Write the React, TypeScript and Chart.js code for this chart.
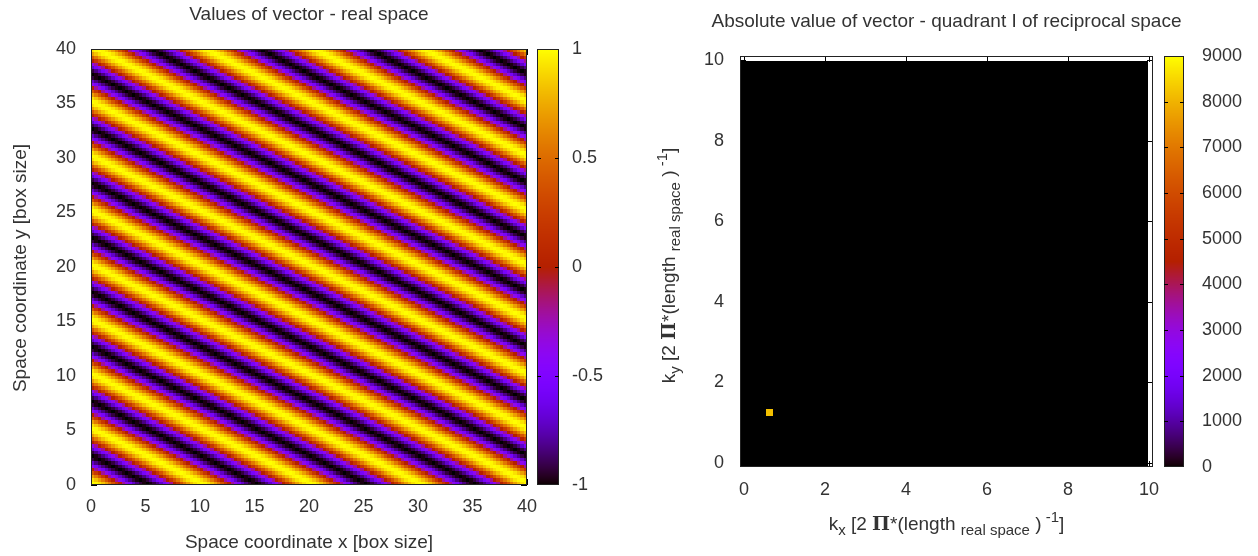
import React, { useEffect, useRef } from "react";
import { Chart, registerables } from "chart.js";

Chart.register(...registerables);

const FONT = "'Liberation Sans', Arial, sans-serif";
const TEXT = "#333333";

// ---------- Real-space panel data ----------
const realGridSize = 128; // cells per side
const realBoxLength = 40; // box size units
const realStripeModes = [4, 8]; // stripe repetitions across the box along x and y
// one period of the stripe profile (value across a stripe)
const stripeProfile = [
  1, 0.98, 0.92, 0.83, 0.71, 0.56, 0.38, 0.2, 0, -0.2, -0.38, -0.56, -0.71, -0.83, -0.92, -0.98,
  -1, -0.98, -0.92, -0.83, -0.71, -0.56, -0.38, -0.2, 0, 0.2, 0.38, 0.56, 0.71, 0.83, 0.92, 0.98,
];
const realTicks = [0, 5, 10, 15, 20, 25, 30, 35, 40];
const realCbTicks = [-1, -0.5, 0, 0.5, 1];

// ---------- Reciprocal-space panel data ----------
const recipGridSize = 64; // cells per side in quadrant I
const recipStep = 0.157; // k spacing, 2*pi/40
const recipPeaks = [{ ix: 4, iy: 8, value: 8192 }];
const recipTicks = [0, 2, 4, 6, 8, 10];
const recipCbTicks = [0, 1000, 2000, 3000, 4000, 5000, 6000, 7000, 8000, 9000];

type Cell = { x: number; y: number; x0: number; x1: number; y0: number; y1: number; v: number };

function buildRealCells(): Cell[] {
  const cells: Cell[] = [];
  const d = realBoxLength / realGridSize;
  const n = stripeProfile.length;
  for (let j = 0; j < realGridSize; j++) {
    for (let i = 0; i < realGridSize; i++) {
      const idx = (((i * realStripeModes[0] + j * realStripeModes[1]) * n) / realGridSize) % n;
      cells.push({
        x: (i + 0.5) * d, y: (j + 0.5) * d,
        x0: i * d, x1: (i + 1) * d, y0: j * d, y1: (j + 1) * d,
        v: stripeProfile[idx],
      });
    }
  }
  return cells;
}

function buildRecipCells(): Cell[] {
  const cells: Cell[] = [];
  for (let j = 0; j < recipGridSize; j++) {
    for (let i = 0; i < recipGridSize; i++) {
      const peak = recipPeaks.find((p) => p.ix === i && p.iy === j);
      cells.push({
        x: i * recipStep, y: j * recipStep,
        x0: (i - 0.5) * recipStep, x1: (i + 0.5) * recipStep,
        y0: (j - 0.5) * recipStep, y1: (j + 0.5) * recipStep,
        v: peak ? peak.value : 0,
      });
    }
  }
  return cells;
}

function paletteColor(t: number): string {
  const c = Math.min(1, Math.max(0, t));
  const r = Math.sqrt(c);
  const g = c * c * c;
  const b = Math.max(0, Math.sin(2 * Math.PI * c));
  return `rgb(${Math.round(r * 255)},${Math.round(g * 255)},${Math.round(b * 255)})`;
}

type Seg = { text: string; size?: number; dy?: number; font?: string };

function drawRich(ctx: CanvasRenderingContext2D, segs: Seg[], cx: number, cy: number, rotate: boolean) {
  ctx.save();
  ctx.translate(cx, cy);
  if (rotate) ctx.rotate(-Math.PI / 2);
  ctx.textBaseline = "alphabetic";
  ctx.textAlign = "left";
  ctx.fillStyle = TEXT;
  const fonts = segs.map((s) => s.font ?? `${s.size ?? 19}px ${FONT}`);
  let total = 0;
  const widths = segs.map((s, i) => {
    ctx.font = fonts[i];
    const w = ctx.measureText(s.text).width;
    total += w;
    return w;
  });
  let x = -total / 2;
  segs.forEach((s, i) => {
    ctx.font = fonts[i];
    ctx.fillText(s.text, x, 7 + (s.dy ?? 0));
    x += widths[i];
  });
  ctx.restore();
}

type Panel = {
  title: string;
  xTitle: Seg[];
  yTitle: Seg[];
  cells: Cell[];
  range: [number, number];
  ticks: number[];
  cbRange: [number, number];
  cbTicks: number[];
  canvasWidth: number;
  topPad: number;
  yAxisWidth: number;
  xAxisHeight: number;
  cbAxisWidth: number;
  yTickPad: number;
  xTickPad: number;
  cbTickPad: number;
  cbGap: number;
  cbWidth: number;
  yTitleShift: number;
};

function makePlugin(p: Panel) {
  return {
    id: "heatmapPanel",
    beforeDatasetsDraw(chart: any) {
      const { ctx, chartArea, scales } = chart;
      const xs = scales.x;
      const ys = scales.y;
      ctx.save();
      // inner tick marks (behind the image)
      ctx.strokeStyle = "#000";
      ctx.lineWidth = 1;
      ctx.beginPath();
      for (const t of xs.ticks) {
        const px = Math.round(xs.getPixelForValue(t.value)) + 0.5;
        ctx.moveTo(px, chartArea.bottom);
        ctx.lineTo(px, chartArea.bottom - 6);
        ctx.moveTo(px, chartArea.top);
        ctx.lineTo(px, chartArea.top + 6);
      }
      for (const t of ys.ticks) {
        const py = Math.round(ys.getPixelForValue(t.value)) + 0.5;
        ctx.moveTo(chartArea.left, py);
        ctx.lineTo(chartArea.left + 6, py);
        ctx.moveTo(chartArea.right, py);
        ctx.lineTo(chartArea.right - 6, py);
      }
      ctx.stroke();
      // cells
      const [vmin, vmax] = p.cbRange;
      const data = chart.data.datasets[0].data as Cell[];
      for (const c of data) {
        const a = Math.round(xs.getPixelForValue(c.x0));
        const b = Math.round(xs.getPixelForValue(c.x1));
        const top = Math.round(ys.getPixelForValue(c.y1));
        const bot = Math.round(ys.getPixelForValue(c.y0));
        ctx.fillStyle = paletteColor((c.v - vmin) / (vmax - vmin));
        ctx.fillRect(a, top, b - a, bot - top);
      }
      ctx.restore();
    },
    afterDraw(chart: any) {
      const { ctx, chartArea, scales } = chart;
      const { left, right, top, bottom } = chartArea;
      ctx.save();
      // frame
      ctx.strokeStyle = "#222";
      ctx.lineWidth = 1;
      ctx.strokeRect(Math.round(left) + 0.5, Math.round(top) + 0.5, Math.round(right - left) - 1, Math.round(bottom - top) - 1);
      // colour box
      const cb = scales.cb;
      const [vmin, vmax] = p.cbRange;
      const x0 = Math.round(right + p.cbGap);
      for (let py = Math.round(top); py < Math.round(bottom); py++) {
        const v = cb.getValueForPixel(py + 0.5);
        ctx.fillStyle = paletteColor((v - vmin) / (vmax - vmin));
        ctx.fillRect(x0, py, p.cbWidth, 1);
      }
      ctx.strokeStyle = "#222";
      ctx.strokeRect(x0 + 0.5, Math.round(top) + 0.5, p.cbWidth - 1, Math.round(bottom - top) - 1);
      ctx.strokeStyle = "#000";
      ctx.beginPath();
      for (const t of cb.ticks) {
        if (t.value === vmin || t.value === vmax) continue;
        const py = Math.round(cb.getPixelForValue(t.value)) + 0.5;
        ctx.moveTo(x0, py);
        ctx.lineTo(x0 + 4, py);
        ctx.moveTo(x0 + p.cbWidth, py);
        ctx.lineTo(x0 + p.cbWidth - 4, py);
      }
      ctx.stroke();
      // titles
      const cx = (left + right) / 2;
      drawRich(ctx, [{ text: p.title, size: 19 }], cx, top - 36, false);
      drawRich(ctx, p.xTitle, cx, bottom + 56, false);
      drawRich(ctx, p.yTitle, left - 72, (top + bottom) / 2 + p.yTitleShift, true);
      ctx.restore();
    },
  };
}

function axis(opts: any) {
  const { position, min, max, ticks, pad, fit } = opts;
  return {
    type: "linear",
    position,
    min,
    max,
    afterBuildTicks: (s: any) => {
      s.ticks = ticks.map((v: number) => ({ value: v }));
    },
    afterFit: (s: any) => {
      fit(s);
      s.paddingTop = 0;
      s.paddingBottom = 0;
      s.paddingLeft = 0;
      s.paddingRight = 0;
    },
    grid: { display: false, drawTicks: false },
    border: { display: false },
    ticks: {
      font: { family: FONT, size: 18 },
      color: TEXT,
      padding: pad,
      maxRotation: 0,
      minRotation: 0,
      autoSkip: false,
      callback: (v: number) => String(v),
    },
  };
}

function HeatPanel({ panel, left }: { panel: Panel; left: number }) {
  const ref = useRef<HTMLCanvasElement | null>(null);
  useEffect(() => {
    if (!ref.current) return;
    const p = panel;
    const chart = new Chart(ref.current, {
      type: "scatter",
      data: {
        datasets: [
          {
            data: p.cells as any,
            pointRadius: 0,
            pointHoverRadius: 0,
            showLine: false,
          },
        ],
      },
      options: {
        responsive: false,
        animation: false,
        events: [],
        layout: { padding: { top: p.topPad, left: 0, right: 0, bottom: 0 } },
        plugins: { legend: { display: false }, tooltip: { enabled: false }, title: { display: false } },
        scales: {
          x: axis({
            position: "bottom", min: p.range[0], max: p.range[1], ticks: p.ticks, pad: p.xTickPad,
            fit: (s: any) => { s.height = p.xAxisHeight; },
          }),
          y: axis({
            position: "left", min: p.range[0], max: p.range[1], ticks: p.ticks, pad: p.yTickPad,
            fit: (s: any) => { s.width = p.yAxisWidth; },
          }),
          cb: axis({
            position: "right", min: p.cbRange[0], max: p.cbRange[1], ticks: p.cbTicks, pad: p.cbTickPad,
            fit: (s: any) => { s.width = p.cbAxisWidth; },
          }),
        } as any,
      },
      plugins: [makePlugin(p)],
    });
    return () => chart.destroy();
  }, [panel]);
  return (
    <canvas
      ref={ref}
      width={panel.canvasWidth}
      height={556}
      style={{ position: "absolute", left, top: 0, width: panel.canvasWidth, height: 556 }}
    />
  );
}

const recipLabel = (axisName: string): Seg[] => [
  { text: "k", size: 19 },
  { text: axisName, size: 15, dy: 5 },
  { text: " [2 ", size: 19 },
  { text: "Π", font: `bold 19px 'DejaVu Serif', serif` },
  { text: "*(length ", size: 19 },
  { text: "real space", size: 15, dy: 5 },
  { text: " )", size: 19 },
  { text: " -1", size: 15, dy: -8 },
  { text: "]", size: 19 },
];

const realPanel: Panel = {
  title: "Values of vector - real space",
  xTitle: [{ text: "Space coordinate x [box size]", size: 19 }],
  yTitle: [{ text: "Space coordinate y [box size]", size: 19 }],
  cells: buildRealCells(),
  range: [0, realBoxLength],
  ticks: realTicks,
  cbRange: [-1, 1],
  cbTicks: realCbTicks,
  canvasWidth: 640,
  topPad: 49,
  yAxisWidth: 91,
  xAxisHeight: 71,
  cbAxisWidth: 113,
  yTickPad: 15,
  xTickPad: 11,
  cbTickPad: 45,
  cbGap: 10,
  cbWidth: 22,
  yTitleShift: 1,
};

const recipPanel: Panel = {
  title: "Absolute value of vector - quadrant I of reciprocal space",
  xTitle: recipLabel("x"),
  yTitle: recipLabel("y"),
  cells: buildRecipCells(),
  range: [-0.1, 10.1],
  ticks: recipTicks,
  cbRange: [0, 9000],
  cbTicks: recipCbTicks,
  canvasWidth: 618,
  topPad: 56,
  yAxisWidth: 100,
  xAxisHeight: 89,
  cbAxisWidth: 105,
  yTickPad: 16,
  xTickPad: 12,
  cbTickPad: 49,
  cbGap: 11,
  cbWidth: 20,
  yTitleShift: 4,
};

export default function App() {
  return (
    <div style={{ position: "fixed", left: 0, top: 0, width: 1258, height: 556, background: "#fff", overflow: "hidden" }}>
      <HeatPanel panel={realPanel} left={0} />
      <HeatPanel panel={recipPanel} left={640} />
    </div>
  );
}
